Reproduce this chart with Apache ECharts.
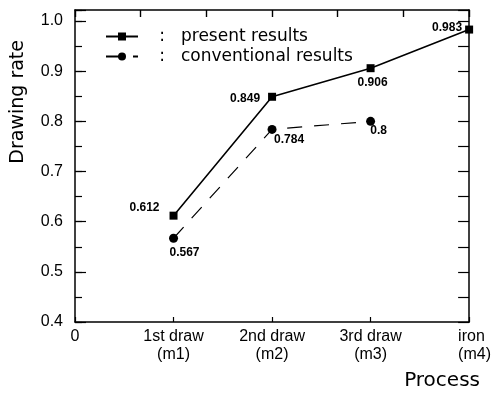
<!DOCTYPE html>
<html>
<head>
<meta charset="utf-8">
<script src="https://cdn.jsdelivr.net/npm/echarts@6/dist/echarts.min.js"></script>
<style>html,body{margin:0;padding:0;background:#fff}#c{width:494px;height:394px}</style>
</head>
<body>
<div id="c"></div>
<script>
var xTickLabels = ['0', '1st draw\n(m1)', '2nd draw\n(m2)', '3rd draw\n(m3)', 'iron\n(m4)'];
var presentX = [1, 2, 3, 4];
var presentY = [0.612, 0.849, 0.906, 0.983];
var conventionalX = [1, 2, 3];
var conventionalY = [0.567, 0.784, 0.8];
var seriesNames = ['present results', 'conventional results'];

var FONT = 'DejaVu Sans';
var NUMFONT = 'Liberation Sans';
var presentLabelPos = [
  {position: 'left', offset: [-5, -8]},
  {position: 'left', offset: [-3, 2]},
  {position: 'bottom', offset: [2, 0]},
  {position: 'left', offset: [2, -2]}
];
var convLabelPos = [
  {position: 'bottom', offset: [11, -1]},
  {position: 'bottom', offset: [17, -5]},
  {position: 'bottom', offset: [8, -6]}
];

function pts(xs, ys, pos) {
  return xs.map(function (x, i) {
    return {
      value: [x, ys[i]],
      label: {show: true, position: pos[i].position, offset: pos[i].offset,
        formatter: String(ys[i]), color: '#000', fontFamily: NUMFONT, fontSize: 12, fontWeight: 'bold'}
    };
  });
}

var chart = echarts.init(document.getElementById('c'), null, {renderer: 'canvas'});
var isTenth = function (v) { return Math.abs(v * 10 - Math.round(v * 10)) < 1e-6; };
chart.setOption({
  animation: false,
  backgroundColor: '#fff',
  grid: {left: 75, right: 11, top: 10, bottom: 72, containLabel: false},
  legend: {
    left: 100, top: 23, orient: 'vertical', itemWidth: 32, itemHeight: 10, itemGap: 3,
    textStyle: {fontFamily: FONT, fontSize: 17, color: '#000',
      rich: {c: {width: 38, align: 'center', fontFamily: FONT, fontSize: 17, color: '#000'},
             t: {fontFamily: FONT, fontSize: 17, color: '#000'}}},
    formatter: function (n) { return '{c|:}{t|' + n + '}'; },
    data: seriesNames
  },
  xAxis: [
    {type: 'value', min: 0, max: 4, interval: 1, position: 'bottom',
      axisLine: {onZero: false, lineStyle: {color: '#000', width: 1.5}},
      axisTick: {show: true, inside: true, length: 5, lineStyle: {color: '#000', width: 1.2}},
      splitLine: {show: false},
      axisLabel: {margin: 6, color: '#000', fontFamily: NUMFONT, fontSize: 16, lineHeight: 18,
        rich: {e: {width: 22, align: 'left', fontFamily: NUMFONT, fontSize: 16, lineHeight: 18, color: '#000'}},
        formatter: function (v) {
          var i = Math.round(v);
          var s = xTickLabels[i];
          if (i === xTickLabels.length - 1) {
            return s.split('\n').map(function (p) { return '{e|' + p + '}'; }).join('\n');
          }
          return s;
        }}
    },
    {type: 'value', min: 0, max: 6, interval: 1, position: 'top',
      axisLine: {onZero: false, lineStyle: {color: '#000', width: 1.5}},
      axisTick: {show: true, inside: true, length: 7, lineStyle: {color: '#000', width: 1.4}},
      splitLine: {show: false},
      axisLabel: {show: false}
    }
  ],
  yAxis: [
    {type: 'value', min: 0.4, max: 1.022, interval: 0.1, position: 'left',
      axisLine: {onZero: false, lineStyle: {color: '#000', width: 1.5}},
      axisTick: {inside: true, length: 11, lineStyle: {color: '#000', width: 1.2}},
      splitLine: {show: false},
      axisLabel: {margin: 12, color: '#000', fontFamily: NUMFONT, fontSize: 16,
        formatter: function (v) { return isTenth(v) ? v.toFixed(1) : ''; }}
    },
    {type: 'value', min: 0.4, max: 1.022, interval: 0.05, position: 'left',
      axisLine: {show: false},
      axisTick: {inside: true, length: 7, lineStyle: {color: '#000', width: 1.2}},
      splitLine: {show: false}, axisLabel: {show: false}
    },
    {type: 'value', min: 0.4, max: 1.022, interval: 0.05, position: 'right',
      axisLine: {onZero: false, lineStyle: {color: '#000', width: 1.5}},
      axisTick: {inside: true, length: 11, lineStyle: {color: '#000', width: 1.2}},
      splitLine: {show: false}, axisLabel: {show: false}
    }
  ],
  graphic: [
    {type: 'text', left: 9, top: 40, rotation: Math.PI / 2,
      style: {text: 'Drawing rate', fontFamily: FONT, fontSize: 19, fill: '#000'}},
    {type: 'text', right: 14, top: 371,
      style: {text: 'Process', fontFamily: FONT, fontSize: 20, fill: '#000'}}
  ],
  series: [
    {name: seriesNames[0], type: 'line', xAxisIndex: 0, yAxisIndex: 0,
      data: pts(presentX, presentY, presentLabelPos),
      symbol: 'rect', symbolSize: 8, color: '#000',
      itemStyle: {color: '#000'},
      lineStyle: {color: '#000', width: 1.6}},
    {name: seriesNames[1], type: 'line', xAxisIndex: 0, yAxisIndex: 0,
      data: pts(conventionalX, conventionalY, convLabelPos),
      symbol: 'circle', symbolSize: 9, color: '#000',
      itemStyle: {color: '#000'},
      lineStyle: {color: '#000', width: 1.2, type: [15, 12]}}
  ]
});
</script>
</body>
</html>
